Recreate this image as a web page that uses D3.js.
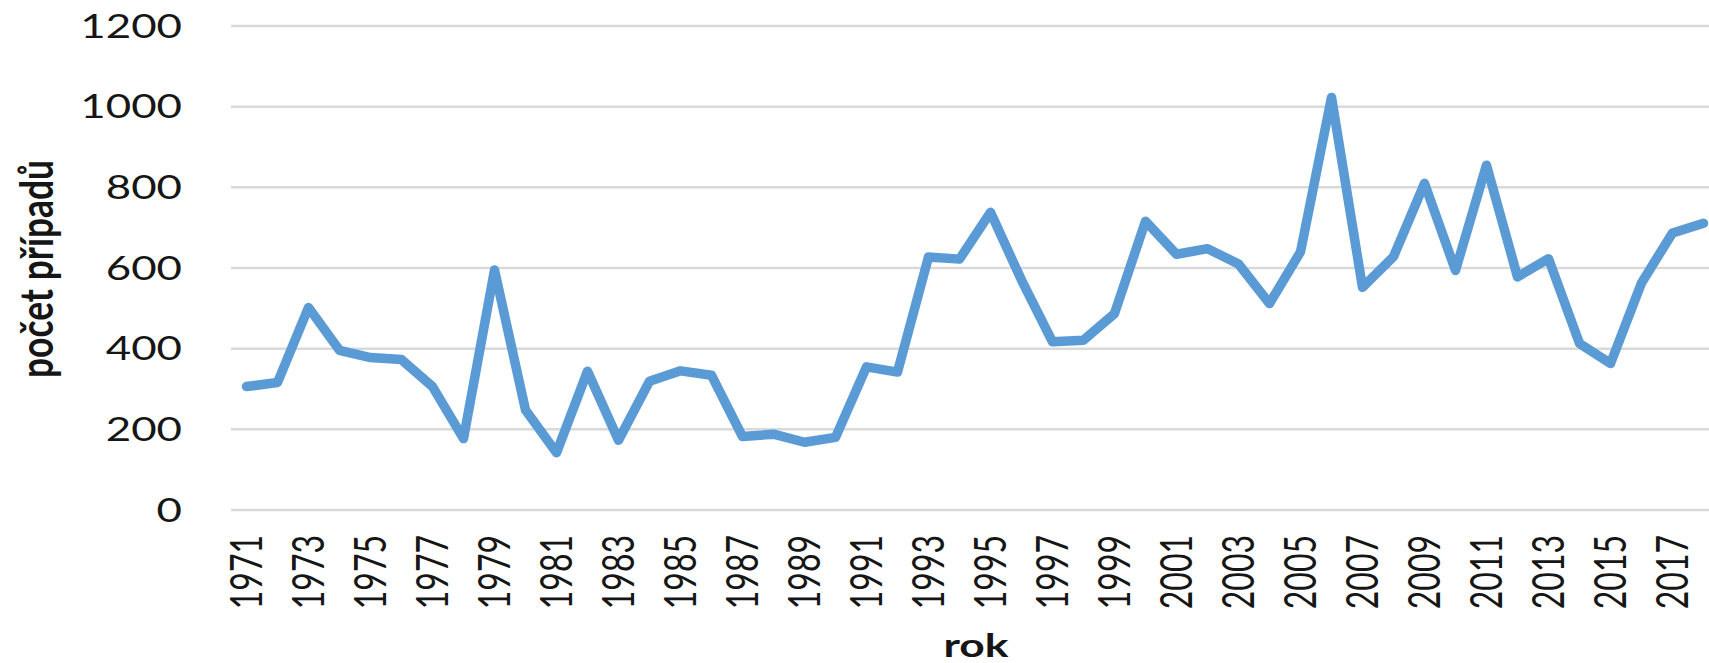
<!DOCTYPE html>
<html>
<head>
<meta charset="utf-8">
<script src="https://cdn.jsdelivr.net/npm/d3@7/dist/d3.min.js"></script>
<style>
  html, body { margin: 0; padding: 0; background: #fff; overflow: hidden; }
  svg { display: block; }
  text { font-family: Lato, "Open Sans", sans-serif; fill: #161616; }
</style>
</head>
<body>
<svg id="chart"></svg>
<script>
// roky (kategorie) a počet případů
const years = [1971, 1972, 1973, 1974, 1975, 1976, 1977, 1978, 1979, 1980,
  1981, 1982, 1983, 1984, 1985, 1986, 1987, 1988, 1989, 1990,
  1991, 1992, 1993, 1994, 1995, 1996, 1997, 1998, 1999, 2000,
  2001, 2002, 2003, 2004, 2005, 2006, 2007, 2008, 2009, 2010,
  2011, 2012, 2013, 2014, 2015, 2016, 2017, 2018];
const cases = [306, 316, 502, 396, 378, 373, 306, 177, 595, 248,
  142, 344, 173, 319, 345, 334, 182, 188, 168, 180,
  355, 342, 627, 622, 738, 570, 417, 421, 487, 716,
  634, 648, 610, 512, 640, 1023, 552, 628, 810, 594,
  855, 578, 623, 413, 363, 563, 687, 711];
const yTicks = [0, 200, 400, 600, 800, 1000, 1200];
const xLabelYears = years.filter((_, i) => i % 2 === 0);

const width = 1709;
const height = 663;
const stretch = 1.37; // the source picture is widened horizontally

const svg = d3.select('#chart').attr('width', width).attr('height', height);

const plotLeft = 231;
const x = d3.scaleBand().domain(years).range([plotLeft, plotLeft + 31 * years.length]);
const y = d3.scaleLinear().domain([0, 1200]).range([510, 26]);
const cx = (d) => x(d) + x.bandwidth() / 2;

// vodorovné mřížky
svg.append('g')
  .selectAll('line')
  .data(yTicks)
  .join('line')
  .attr('x1', plotLeft)
  .attr('x2', x.range()[1])
  .attr('y1', (d) => y(d))
  .attr('y2', (d) => y(d))
  .attr('stroke', '#d9d9d9')
  .attr('stroke-width', 2.5);

// popisky osy y
svg.append('g')
  .selectAll('text')
  .data(yTicks)
  .join('text')
  .attr('transform', (d) => `translate(182,${y(d)}) scale(${stretch},1)`)
  .attr('text-anchor', 'end')
  .attr('dy', '0.36em')
  .style('font-size', '32px')
  .text((d) => d);

// popisky osy x (každý druhý rok)
svg.append('g')
  .selectAll('text')
  .data(xLabelYears)
  .join('text')
  .attr('transform', (d) => `translate(${cx(d)},535) scale(${stretch},1) rotate(-90)`)
  .attr('text-anchor', 'end')
  .attr('dy', '0.36em')
  .style('font-size', '32px')
  .text((d) => d);

// datová řada
const line = d3.line().x((d, i) => cx(years[i])).y((d) => y(d));
svg.append('path')
  .attr('d', line(cases))
  .attr('fill', 'none')
  .attr('stroke', '#5b9bd5')
  .attr('stroke-width', 9.5)
  .attr('stroke-linejoin', 'round')
  .attr('stroke-linecap', 'round');

// názvy os
svg.append('text')
  .attr('transform', `translate(53,269) scale(${stretch},1) rotate(-90)`)
  .attr('text-anchor', 'middle')
  .attr('textLength', 218)
  .attr('lengthAdjust', 'spacingAndGlyphs')
  .style('font-size', '33px')
  .style('font-weight', 700)
  .text('počet případů');

svg.append('text')
  .attr('transform', `translate(976,657) scale(${stretch},1)`)
  .attr('text-anchor', 'middle')
  .attr('textLength', 47.5)
  .attr('lengthAdjust', 'spacingAndGlyphs')
  .style('font-size', '33px')
  .style('font-weight', 700)
  .text('rok');
</script>
</body>
</html>
